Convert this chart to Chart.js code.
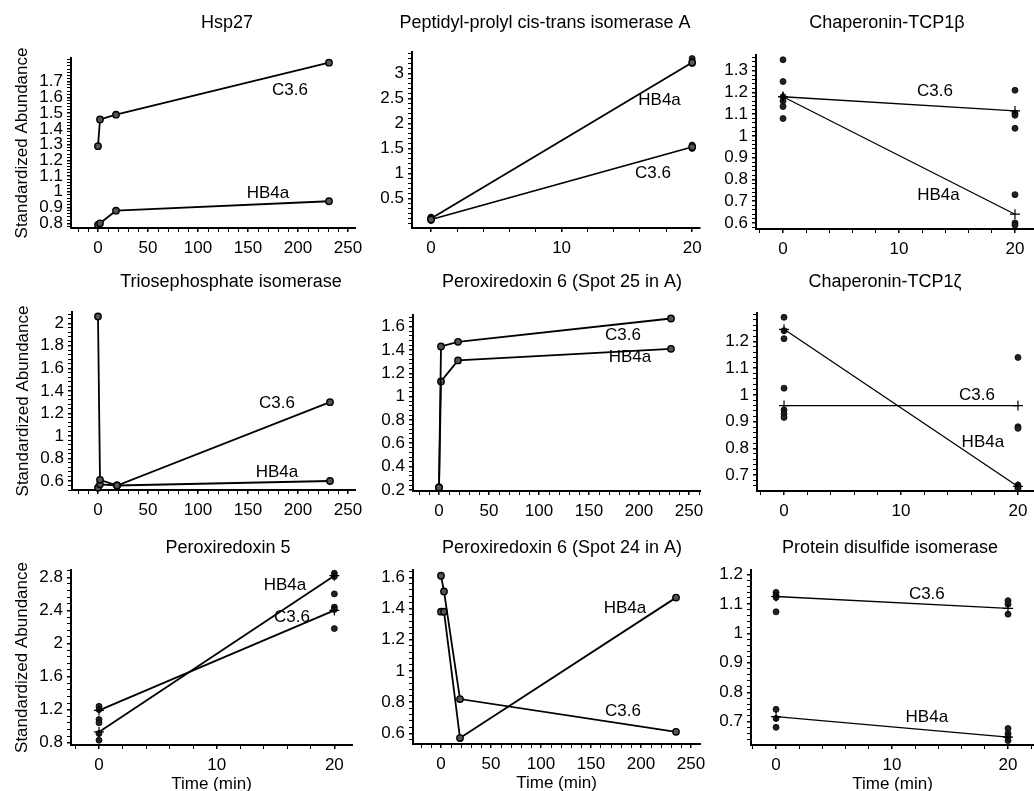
<!DOCTYPE html>
<html>
<head>
<meta charset="utf-8">
<script src="https://cdn.jsdelivr.net/npm/chart.js@4.4.1/dist/chart.umd.min.js"></script>
<style>
  html, body { margin: 0; padding: 0; background: #fff; overflow: hidden; }
  #wrap { position: relative; width: 1034px; height: 791px; overflow: hidden; }
  #wrap canvas { position: absolute; }
</style>
</head>
<body>
<div id="wrap"></div>
<script>
// ---- values ----
const minuteTicks = [0, 50, 100, 150, 200, 250];
const shortTicks = [0, 10, 20];

// Hsp27
const hsp27Time = [0, 2, 18, 231];
const hsp27C36 = [1.29, 1.46, 1.49, 1.82];
const hsp27HB4a = [0.79, 0.80, 0.88, 0.94];
const hsp27YTicks = [0.8, 0.9, 1, 1.1, 1.2, 1.3, 1.4, 1.5, 1.6, 1.7];

// Peptidyl-prolyl cis-trans isomerase A
const ppiaTime = [0, 20];
const ppiaC36 = [0.08, 1.53];
const ppiaHB4a = [0.1, 3.22];
const ppiaRep0 = [0.06, 0.1, 0.13];
const ppiaRep20 = [3.3, 3.2, 1.57, 1.5];
const ppiaYTicks = [0.5, 1, 1.5, 2, 2.5, 3];

// Chaperonin-TCP1 beta
const tcpbTime = [0, 20];
const tcpbC36 = [1.18, 1.115];
const tcpbHB4a = [1.18, 0.64];
const tcpbRep0 = [1.35, 1.25, 1.18, 1.16, 1.135, 1.08];
const tcpbRep20 = [1.21, 1.105, 1.095, 1.035, 0.73, 0.6, 0.59];
const tcpbYTicks = [0.6, 0.7, 0.8, 0.9, 1, 1.1, 1.2, 1.3];

// Triosephosphate isomerase
const tpiTime = [0, 2, 19, 232];
const tpiC36 = [2.06, 0.61, 0.56, 1.30];
const tpiHB4a = [0.54, 0.57, 0.56, 0.60];
const tpiYTicks = [0.6, 0.8, 1, 1.2, 1.4, 1.6, 1.8, 2];

// Peroxiredoxin 6 (spot 25)
const prx25Time = [0, 2, 19, 232];
const prx25C36 = [0.22, 1.43, 1.47, 1.67];
const prx25HB4a = [0.22, 1.13, 1.31, 1.41];
const prx25YTicks = [0.2, 0.4, 0.6, 0.8, 1, 1.2, 1.4, 1.6];

// Chaperonin-TCP1 zeta
const tcpzTime = [0, 20];
const tcpzC36 = [0.96, 0.96];
const tcpzHB4a = [1.245, 0.658];
const tcpzRep0 = [1.29, 1.24, 1.21, 1.025, 0.944, 0.929, 0.916];
const tcpzRep20 = [1.14, 0.881, 0.875, 0.663, 0.656, 0.65];
const tcpzYTicks = [0.7, 0.8, 0.9, 1, 1.1, 1.2];

// Peroxiredoxin 5
const prx5Time = [0, 20];
const prx5C36 = [1.19, 2.4];
const prx5HB4a = [0.93, 2.82];
const prx5Rep0 = [1.24, 1.2, 1.08, 1.04, 0.91, 0.83];
const prx5Rep20 = [2.85, 2.81, 2.6, 2.44, 2.41, 2.18];
const prx5YTicks = [0.8, 1.2, 1.6, 2, 2.4, 2.8];

// Peroxiredoxin 6 (spot 24)
const prx24Time = [0, 3, 19, 235];
const prx24C36 = [1.61, 1.51, 0.82, 0.61];
const prx24HB4a = [1.38, 1.38, 0.57, 1.47];
const prx24YTicks = [0.6, 0.8, 1, 1.2, 1.4, 1.6];

// Protein disulfide isomerase
const pdiTime = [0, 20];
const pdiC36 = [1.125, 1.085];
const pdiHB4a = [0.717, 0.648];
const pdiRep0 = [1.139, 1.13, 1.122, 1.073, 0.742, 0.711, 0.681];
const pdiRep20 = [1.111, 1.099, 1.065, 0.677, 0.66, 0.649, 0.636];
const pdiYTicks = [0.7, 0.8, 0.9, 1, 1.1, 1.2];

// ---- panel layout (page pixels: plot left, right, top, bottom) ----
const panels = [
  { title: 'Hsp27', time: hsp27Time, c36: hsp27C36, hb4a: hsp27HB4a, yTicks: hsp27YTicks, xTicks: minuteTicks,
    xr: [-27, 257], yr: [0.77, 1.85], box: [71, 355, 58, 228], tx: 227, ty: 23, yTitle: true,
    tags: [['C3.6', 192, 1.647], ['HB4a', 170, 0.992]] },
  { title: 'Peptidyl-prolyl cis-trans isomerase A', time: ppiaTime, c36: ppiaC36, hb4a: ppiaHB4a, rep0: ppiaRep0, rep20: ppiaRep20,
    yTicks: ppiaYTicks, xTicks: shortTicks, marker: 'circle',
    xr: [-1.46, 20.6], yr: [-0.09, 3.43], box: [412, 700, 52, 228], tx: 545, ty: 23,
    tags: [['HB4a', 17.5, 2.47], ['C3.6', 17, 1.01]] },
  { title: 'Chaperonin-TCP1\u03b2', time: tcpbTime, c36: tcpbC36, hb4a: tcpbHB4a, rep0: tcpbRep0, rep20: tcpbRep20,
    yTicks: tcpbYTicks, xTicks: shortTicks, marker: 'cross',
    xr: [-2.33, 21.64], yr: [0.572, 1.372], box: [756, 1034, 55, 229], tx: 887, ty: 23,
    tags: [['C3.6', 13.1, 1.206], ['HB4a', 13.4, 0.728]] },
  { title: 'Triosephosphate isomerase', time: tpiTime, c36: tpiC36, hb4a: tpiHB4a, yTicks: tpiYTicks, xTicks: minuteTicks,
    xr: [-26, 257], yr: [0.52, 2.10], box: [72, 355, 312, 490], tx: 231, ty: 282, yTitle: true,
    tags: [['C3.6', 179, 1.292], ['HB4a', 179, 0.68]] },
  { title: 'Peroxiredoxin 6 (Spot 25 in A)', time: prx25Time, c36: prx25C36, hb4a: prx25HB4a, yTicks: prx25YTicks, xTicks: minuteTicks,
    xr: [-26, 261], yr: [0.19, 1.70], box: [413, 700, 315, 491], tx: 562, ty: 282,
    tags: [['C3.6', 184, 1.528], ['HB4a', 191, 1.339]] },
  { title: 'Chaperonin-TCP1\u03b6', time: tcpzTime, c36: tcpzC36, hb4a: tcpzHB4a, rep0: tcpzRep0, rep20: tcpzRep20,
    yTicks: tcpzYTicks, xTicks: shortTicks, marker: 'cross',
    xr: [-2.31, 21.37], yr: [0.641, 1.306], box: [757, 1034, 313, 491], tx: 885, ty: 282,
    tags: [['C3.6', 16.5, 1.0], ['HB4a', 17, 0.824]] },
  { title: 'Peroxiredoxin 5', time: prx5Time, c36: prx5C36, hb4a: prx5HB4a, rep0: prx5Rep0, rep20: prx5Rep20,
    yTicks: prx5YTicks, xTicks: shortTicks, marker: 'cross', lineW: 1.8,
    xr: [-2.38, 21.5], yr: [0.772, 2.889], box: [71, 352, 570, 745], tx: 228, ty: 548, yTitle: true, xTitle: true,
    tags: [['HB4a', 15.8, 2.707], ['C3.6', 16.4, 2.32]] },
  { title: 'Peroxiredoxin 6 (Spot 24 in A)', time: prx24Time, c36: prx24C36, hb4a: prx24HB4a, yTicks: prx24YTicks, xTicks: minuteTicks,
    xr: [-28, 259], yr: [0.532, 1.647], box: [413, 700, 570, 744], tx: 562, ty: 548, xTitle: true,
    tags: [['HB4a', 184, 1.404], ['C3.6', 182, 0.744]] },
  { title: 'Protein disulfide isomerase', time: pdiTime, c36: pdiC36, hb4a: pdiHB4a, rep0: pdiRep0, rep20: pdiRep20,
    yTicks: pdiYTicks, xTicks: shortTicks, marker: 'cross',
    xr: [-2.16, 22.24], yr: [0.621, 1.215], box: [751, 1034, 570, 745], tx: 890, ty: 548, xTitle: true,
    tags: [['C3.6', 13, 1.134], ['HB4a', 13, 0.716]] },
];

const FONT = "'Liberation Sans', Arial, Helvetica, sans-serif";
Chart.defaults.font.family = FONT;
Chart.defaults.color = '#000';

const TITLE_SIZE = 18;
const TITLE_LH = TITLE_SIZE * 1.2;

// majors from the arrays, plus 4 minor marks between each pair
function tickList(majors, lo, hi) {
  const step = (majors[1] - majors[0]) / 5;
  const n0 = Math.floor((majors[0] - lo) / step + 1e-9);
  const start = majors[0] - n0 * step;
  const out = [];
  for (let i = 0; start + i * step <= hi + 1e-9; i++) {
    const v = +(start + i * step).toFixed(6);
    out.push({ value: v, major: majors.includes(v) });
  }
  return out;
}

const seriesTags = {
  id: 'seriesTags',
  afterDatasetsDraw(chart, args, opts) {
    const { ctx, scales } = chart;
    ctx.save();
    ctx.font = '17px ' + FONT;
    ctx.fillStyle = '#000';
    ctx.textAlign = 'center';
    ctx.textBaseline = 'middle';
    (opts.items || []).forEach(([t, x, y]) => {
      ctx.fillText(t, scales.x.getPixelForValue(x), scales.y.getPixelForValue(y));
    });
    ctx.restore();
  }
};

function pts(xs, ys) { return xs.map((x, i) => ({ x, y: ys[i] })); }
function column(x, ys) { return ys.map(y => ({ x, y })); }

function makePanel(p) {
  const wrap = document.getElementById('wrap');
  const yw = p.yTitle ? 71 : 60;
  const left = p.box[0] - yw;
  const width = Math.round(2 * (p.tx - left));
  const padRight = left + width - p.box[1];
  const top = Math.round(p.ty - TITLE_LH / 2);
  const xh = p.xTitle ? 50 : 36;
  const height = p.box[3] + xh - top;

  const cv = document.createElement('canvas');
  cv.width = width; cv.height = height;
  cv.style.left = left + 'px'; cv.style.top = top + 'px';
  wrap.appendChild(cv);

  const isPair = !!p.rep0;
  const lineW = p.lineW || (isPair && p.marker === 'cross' ? 1.3 : 1.8);
  const lineStyle = (label, ys) => ({
    label,
    data: pts(p.time, ys),
    showLine: true,
    borderColor: '#000',
    borderWidth: lineW,
    pointStyle: p.marker === 'cross' ? 'cross' : 'circle',
    pointRadius: p.marker === 'cross' ? 5 : 3.2,
    pointBorderWidth: p.marker === 'cross' ? 1.2 : 1.4,
    pointBorderColor: '#000',
    pointBackgroundColor: '#555',
    clip: false
  });
  const datasets = [lineStyle('C3.6', p.c36), lineStyle('HB4a', p.hb4a)];
  if (isPair) {
    datasets.push({
      label: 'replicates',
      data: column(0, p.rep0).concat(column(20, p.rep20)),
      showLine: false,
      pointRadius: 3,
      pointBorderWidth: 0.8,
      pointBorderColor: '#000',
      pointBackgroundColor: '#222',
      clip: false
    });
  }

  const axisGrid = {
    display: true, drawOnChartArea: false, drawTicks: true,
    tickLength: 4, tickColor: '#000',
    lineWidth: ctx => (ctx.tick && ctx.tick.major ? 1.5 : 1),
    tickWidth: ctx => (ctx.tick && ctx.tick.major ? 1.5 : 1)
  };

  new Chart(cv, {
    type: 'scatter',
    data: { datasets },
    options: {
      responsive: false,
      animation: false,
      events: [],
      layout: { padding: 0 },
      plugins: {
        legend: { display: false },
        tooltip: { enabled: false },
        title: {
          display: true, text: p.title, color: '#000',
          font: { size: TITLE_SIZE, weight: 'normal' },
          padding: { top: 0, bottom: p.box[2] - top - TITLE_LH }
        },
        seriesTags: { items: p.tags }
      },
      scales: {
        x: {
          type: 'linear', min: p.xr[0], max: p.xr[1],
          afterBuildTicks: s => { s.ticks = tickList(p.xTicks, p.xr[0], p.xr[1]); },
          afterFit: s => { s.height = xh; },
          ticks: {
            autoSkip: false, maxRotation: 0, padding: 6, font: { size: 17 }, color: '#000',
            callback: v => (p.xTicks.includes(+(+v).toFixed(6)) ? String(v) : '')
          },
          grid: axisGrid,
          border: { display: true, color: '#000', width: 2 },
          title: { display: !!p.xTitle, text: 'Time (min)', font: { size: 17 }, color: '#000', padding: 0 }
        },
        y: {
          type: 'linear', position: 'left', min: p.yr[0], max: p.yr[1],
          afterBuildTicks: s => { s.ticks = tickList(p.yTicks, p.yr[0], p.yr[1]); },
          afterFit: s => { s.width = yw; },
          ticks: {
            autoSkip: false, padding: 4, font: { size: 17 }, color: '#000',
            callback: v => (p.yTicks.includes(+(+v).toFixed(6)) ? String(v) : '')
          },
          grid: axisGrid,
          border: { display: true, color: '#000', width: 2 },
          title: {
            display: !!p.yTitle, text: 'Standardized Abundance', font: { size: 17 }, color: '#000',
            padding: { top: 12, bottom: 0 }
          }
        },
        // empty right-hand box so the title centre can sit right of the plot centre
        spacer: {
          type: 'linear', position: 'right', display: true,
          grid: { display: false }, ticks: { display: false }, border: { display: false },
          afterFit: s => { s.width = padRight; }
        }
      }
    },
    plugins: [seriesTags]
  });
}

panels.forEach(makePanel);
</script>
</body>
</html>
